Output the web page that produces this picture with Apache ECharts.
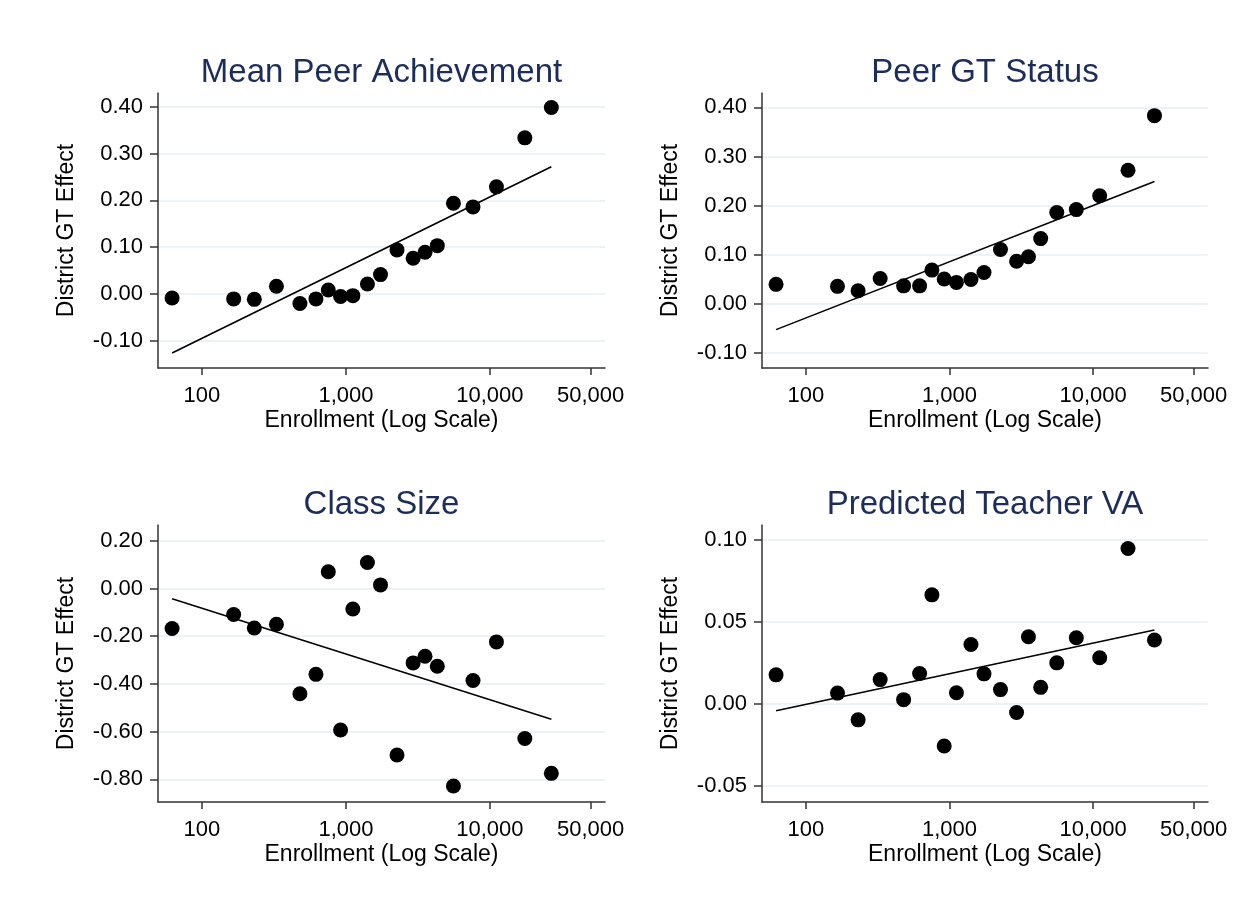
<!DOCTYPE html>
<html>
<head>
<meta charset="utf-8">
<script src="https://cdn.jsdelivr.net/npm/echarts@6/dist/echarts.min.js"></script>
<style>
html,body{margin:0;padding:0;background:#fff;}
#chart{width:1249px;height:909px;}
</style>
</head>
<body>
<div id="chart"></div>
<script>
// ---- data ----
const panelTitles = ['Mean Peer Achievement', 'Peer GT Status', 'Class Size', 'Predicted Teacher VA'];
const enrollment = [62, 166, 231, 329, 479, 619, 754, 918, 1117, 1410, 1738, 2263, 2929, 3543, 4311, 5580, 7632, 11100, 17480, 26710];
const meanPeerAch = [-0.009, -0.011, -0.012, 0.016, -0.021, -0.011, 0.008, -0.006, -0.004, 0.021, 0.041, 0.094, 0.076, 0.089, 0.103, 0.194, 0.186, 0.229, 0.334, 0.399];
const peerGTStatus = [0.040, 0.036, 0.027, 0.052, 0.037, 0.037, 0.069, 0.051, 0.044, 0.050, 0.064, 0.111, 0.087, 0.096, 0.133, 0.186, 0.192, 0.220, 0.272, 0.383];
const classSize = [-0.168, -0.109, -0.166, -0.150, -0.441, -0.360, 0.070, -0.593, -0.086, 0.109, 0.015, -0.698, -0.312, -0.284, -0.326, -0.828, -0.386, -0.224, -0.629, -0.775];
const teacherVA = [0.0178, 0.0067, -0.0096, 0.0149, 0.0027, 0.0186, 0.0665, -0.0255, 0.0069, 0.0363, 0.0184, 0.0088, -0.0051, 0.0410, 0.0102, 0.0251, 0.0404, 0.0282, 0.0947, 0.0390];
const fitEnrollment = [62, 26710];
const fitMeanPeerAch = [-0.127, 0.272];
const fitPeerGTStatus = [-0.052, 0.249];
const fitClassSize = [-0.043, -0.548];
const fitTeacherVA = [-0.0041, 0.0451];
const xTickLabels = [100, 1000, 10000, 50000];
const yTicksTop = [-0.10, 0.00, 0.10, 0.20, 0.30, 0.40];
const yTicksClass = [-0.80, -0.60, -0.40, -0.20, 0.00, 0.20];
const yTicksVA = [-0.05, 0.00, 0.05, 0.10];
const xName = 'Enrollment (Log Scale)';
const yName = 'District GT Effect';

// ---- layout / style ----
const FONT = 'Liberation Sans, Arial, sans-serif';
const grids = [
  {left: 158, top: 93, width: 447, height: 275},
  {left: 762, top: 93, width: 446, height: 275},
  {left: 158, top: 525, width: 447, height: 277},
  {left: 762, top: 525, width: 446, height: 277}
];
const yRanges = [[-0.159, 0.430], [-0.130, 0.429], [-0.895, 0.266], [-0.0596, 0.109]];
const yTicks = [yTicksTop, yTicksTop, yTicksClass, yTicksVA];
const values = [meanPeerAch, peerGTStatus, classSize, teacherVA];
const fits = [fitMeanPeerAch, fitPeerGTStatus, fitClassSize, fitTeacherVA];
const xMin = 49.5, xMax = 63000;
const lg = v => Math.log10(v);

const axisLineStyle = {color: '#333', width: 1.5};
const option = {
  animation: false,
  backgroundColor: '#fff',
  title: [], grid: [], xAxis: [], yAxis: [], series: []
};
grids.forEach((g, i) => {
  option.grid.push(Object.assign({containLabel: false}, g));
  option.title.push({
    text: panelTitles[i],
    left: g.left + g.width / 2,
    top: g.top - 37,
    textAlign: 'center',
    padding: 0,
    textStyle: {fontFamily: FONT, fontSize: 33, fontWeight: 'normal', color: '#1c2d5a'}
  });
  option.xAxis.push({
    type: 'value', gridIndex: i,
    min: lg(xMin), max: lg(xMax),
    name: xName, nameLocation: 'middle', nameGap: 41,
    nameTextStyle: {fontFamily: FONT, fontSize: 23, color: '#000'},
    axisLine: {show: true, onZero: false, lineStyle: axisLineStyle},
    axisTick: {show: true, length: 7, lineStyle: axisLineStyle, customValues: xTickLabels.map(lg)},
    axisLabel: {
      fontFamily: FONT, fontSize: 22, color: '#000', margin: 17,
      customValues: xTickLabels.map(lg),
      formatter: v => Math.round(Math.pow(10, v)).toLocaleString('en-US')
    },
    splitLine: {show: false}
  });
  const yt = yTicks[i];
  option.yAxis.push({
    type: 'value', gridIndex: i,
    min: yRanges[i][0], max: yRanges[i][1],
    name: yName, nameLocation: 'middle', nameGap: 80, nameRotate: 90,
    nameTextStyle: {fontFamily: FONT, fontSize: 23, color: '#000'},
    axisLine: {show: true, onZero: false, lineStyle: axisLineStyle},
    axisTick: {show: true, length: 8, lineStyle: axisLineStyle, customValues: yt},
    axisLabel: {
      fontFamily: FONT, fontSize: 22, color: '#000', margin: 15,
      customValues: yt,
      formatter: v => (Math.abs(v) < 1e-9 ? 0 : v).toFixed(2)
    },
    splitLine: {show: true, lineStyle: {color: '#e6eef2', width: 1.5}}
  });
  option.series.push({
    type: 'line', xAxisIndex: i, yAxisIndex: i,
    data: fitEnrollment.map((x, k) => [lg(x), fits[i][k]]),
    showSymbol: false, symbol: 'none',
    lineStyle: {color: '#000', width: 1.6},
    z: 2
  });
  option.series.push({
    type: 'scatter', xAxisIndex: i, yAxisIndex: i,
    data: enrollment.map((x, k) => [lg(x), values[i][k]]),
    symbol: 'circle', symbolSize: 15,
    itemStyle: {color: '#000', opacity: 1},
    z: 3
  });
});
const chart = echarts.init(document.getElementById('chart'), null, {renderer: 'canvas'});
chart.setOption(option);
</script>
</body>
</html>
